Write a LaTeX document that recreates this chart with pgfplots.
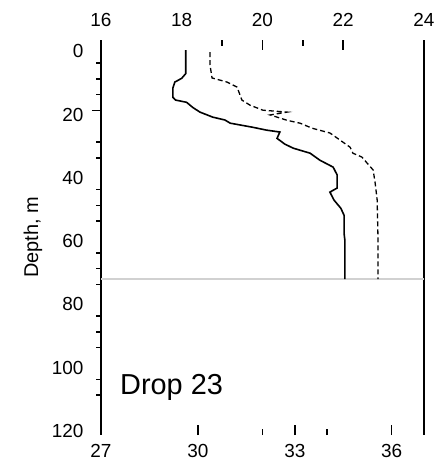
\documentclass[border=0pt]{standalone}
\usepackage{pgfplots}
\pgfplotsset{compat=1.18}
\usepackage{fontspec}
\setmainfont{Liberation Sans}

\pgfplotstableread{
T d
18.10 0.9
18.10 8.3
18.00 9.8
17.83 11.0
17.78 12.9
17.78 15.8
17.85 16.7
18.12 17.4
18.27 19.0
18.45 20.5
18.77 22.1
19.07 23.0
19.20 24.0
19.76 25.3
20.10 26.2
20.43 26.8
20.36 28.8
20.55 30.6
20.76 31.9
21.18 33.5
21.42 35.7
21.75 37.9
21.85 40.4
21.85 44.5
21.67 45.8
21.77 48.3
21.94 50.9
22.02 53.1
22.02 58.8
22.04 61.0
22.04 73.3
}\solid

\pgfplotstableread{
T d
18.70 1.5
18.70 5.6
18.75 9.7
19.12 11.0
19.37 12.6
19.49 16.7
19.69 18.3
20.01 19.9
20.61 20.5
20.19 21.4
20.61 23.1
20.93 24.0
21.23 25.6
21.67 27.1
22.17 31.6
22.24 33.5
22.46 34.7
22.74 38.8
22.79 42.9
22.84 48.3
22.86 60.0
22.86 73.3
}\dashed

\pgfplotsset{
  common/.style={
    scale only axis, width=323bp, height=395bp,
    at={(0,0)}, anchor=south west,
    ymin=-2.3, ymax=122.6, y dir=reverse, clip=false,
    /pgf/number format/assume math mode=true,
    tick label style={font=\fontsize{19}{22}\selectfont},
    every tick/.style={black, line width=1.5bp},
  }
}

\begin{document}
\begin{tikzpicture}
% y axis with frame lines
\begin{axis}[common,
  xmin=16, xmax=24, xtick=\empty,
  separate axis lines,
  x axis line style={draw=none},
  y axis line style={black, line width=1.6bp},
  tick align=outside, ytick pos=left,
  ytick={0,20,40,60,80,100,120},
  major tick length=0bp, minor tick length=4.5bp,
  minor ytick={5,10,15,30,35,45,50,55,65,70,75,85,90,95,105,110},
  extra y ticks={20}, extra y tick labels={},
  extra y tick style={major tick length=9bp},
  yticklabel style={xshift=-14bp, yshift=-4bp},
]
\node[rotate=90, anchor=center, font=\fontsize{20}{24}\selectfont]
  at ([xshift=-68bp]rel axis cs:0,0.5) {Depth, m};
\end{axis}
% top axis
\begin{axis}[common,
  xmin=16, xmax=24, ytick=\empty,
  axis line style={draw=none},
  tick align=inside, xtick pos=right, xticklabel pos=right,
  xtick={20,22}, xticklabels={},
  minor xtick={19,21},
  major tick length=10bp, minor tick length=6bp,
  extra x ticks={16,18,20,22,24},
  extra x tick style={major tick length=0bp},
  xticklabel style={yshift=10bp},
]
\addplot[black!18, line width=2bp] coordinates {(16,73.3) (24,73.3)};
\addplot[black, line width=1.6bp] table[x=T, y=d] {\solid};
\addplot[black, line width=1.3bp, dash pattern=on 5bp off 3bp] table[x=T, y=d] {\dashed};
\node[anchor=base west, font=\fontsize{29}{34}\selectfont, inner sep=0pt]
  at (axis cs:16.47,109.7) {Drop 23};
\end{axis}
% bottom axis
\begin{axis}[common,
  xmin=27, xmax=37, ytick=\empty,
  axis line style={draw=none},
  tick align=inside, xtick pos=left, xticklabel pos=left,
  xtick={30,33,36}, xticklabels={},
  minor xtick={32,34},
  major tick length=10bp, minor tick length=6bp,
  extra x ticks={27,30,33,36},
  extra x tick style={major tick length=0bp},
  xticklabel style={yshift=-8bp, inner sep=1bp},
]
\end{axis}
\pgfresetboundingbox
\path[use as bounding box] (-101bp,-31bp) rectangle (333bp,435bp);
\end{tikzpicture}
\end{document}
